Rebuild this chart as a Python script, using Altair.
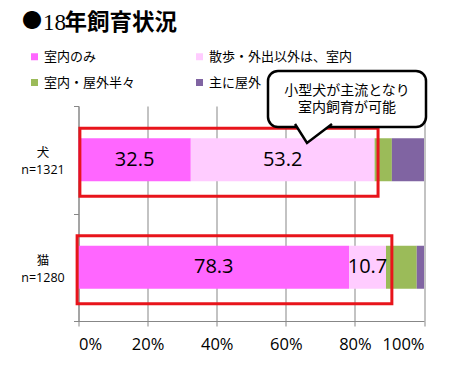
import altair as alt
import pandas as pd

# ---- data ----
categories = ["犬", "猫"]
n_values = [1321, 1280]
series = ["室内のみ", "散歩・外出以外は、室内", "室内・屋外半々", "主に屋外"]
dog_values = [32.5, 53.2, 5.0, 9.3]
cat_values = [78.3, 10.7, 8.9, 2.1]
colors = ["#FF66FF", "#FFCCFF", "#9BBB59", "#8064A2"]
labeled_series = 2  # first two segments carry value labels
x_ticks = [0, 20, 40, 60, 80, 100]

# highlight boxes (percent units)
box_start = [0.4, -0.4]
box_end = [86.7, 90.7]

callout_lines = ["小型犬が主流となり", "室内飼育が可能"]
title_mark = "●"
title_num = "18"
title_rest = "年飼育状況"

ylabels = [f"{c}|n={n}" for c, n in zip(categories, n_values)]

rows = []
for lab, vals in zip(ylabels, [dog_values, cat_values]):
    for i, (s, v) in enumerate(zip(series, vals)):
        rows.append({"label": lab, "series": s, "idx": i, "value": v})
df = pd.DataFrame(rows)
boxes = pd.DataFrame({"label": ylabels, "x0": box_start, "x1": box_end})
one = pd.DataFrame({"a": [0]})

JP = "'Noto Sans CJK JP'"
NUM = "'Open Sans', 'Noto Sans CJK JP'"

xscale = alt.Scale(domain=[0, 100], nice=False, zero=False)
yscale = alt.Scale(domain=ylabels, paddingInner=0, paddingOuter=0)

xaxis = alt.Axis(values=x_ticks, labelExpr="datum.value + '%'", title=None,
                 grid=True, gridColor="#878787", domainColor="#878787",
                 tickColor="#878787", tickSize=5, labelFont=NUM,
                 labelFontSize=16.5, labelColor="black", labelPadding=10)
yaxis = alt.Axis(title=None, labelExpr="split(datum.label, '|')",
                 labelAlign="center", labelBaseline="middle", labelPadding=31,
                 labelOffset=-7,
                 labelFont=NUM, labelFontSize=12.5, labelLineHeight=17,
                 labelColor="black", domainColor="#878787", tickColor="#878787",
                 tickSize=5, tickBand="extent", grid=False)

bars = alt.Chart(df).mark_bar(size=43).encode(
    x=alt.X("value:Q", stack="zero", scale=xscale, axis=xaxis),
    y=alt.Y("label:N", scale=yscale, axis=yaxis, sort=ylabels),
    color=alt.Color("series:N", scale=alt.Scale(domain=series, range=colors),
                    legend=alt.Legend(orient="none", legendX=-50.5, legendY=-56,
                                      direction="horizontal",
                                      columns=2, title=None, symbolType="square",
                                      symbolSize=49, symbolStrokeWidth=0,
                                      labelFont=JP, labelFontSize=13,
                                      labelColor="black", labelOffset=3,
                                      labelLimit=0, columnPadding=57,
                                      rowPadding=12, padding=0)),
    order=alt.Order("idx:Q"),
)

labels = alt.Chart(df).transform_stack(
    stack="value", as_=["x0", "x1"], groupby=["label"],
    sort=[alt.SortField("idx", order="ascending")]
).transform_calculate(mid="(datum.x0 + datum.x1) / 2").transform_filter(
    f"datum.idx < {labeled_series}"
).mark_text(font=NUM, fontSize=20, color="black", baseline="middle").encode(
    x=alt.X("mid:Q", scale=xscale),
    y=alt.Y("label:N", scale=yscale, sort=ylabels),
    text=alt.Text("value:Q", format=".1f"),
)

redboxes = alt.Chart(boxes).mark_bar(size=68, fillOpacity=0, stroke="#E8141B",
                                     strokeWidth=3, yOffset=2.5).encode(
    x=alt.X("x0:Q", scale=xscale),
    x2="x1:Q",
    y=alt.Y("label:N", scale=yscale, sort=ylabels),
)

callout_box = alt.Chart(one).mark_rect(cornerRadius=10, fill="white",
                                       stroke="black", strokeWidth=2.5).encode(
    x=alt.value(189.5), x2=alt.value(347.5), y=alt.value(-35), y2=alt.value(21))

pointer = alt.Chart(one).mark_point(
    shape="M-0.9,-0.5 L-0.3,0.45 L0.95,-0.5", size=1600, filled=True,
    fill="white", stroke="black", strokeWidth=2.5, opacity=1, strokeJoin="miter"
).encode(x=alt.value(234.5), y=alt.value(28))

callout_text = alt.Chart(one).mark_text(font=JP, fontSize=14, color="black",
                                        align="center", baseline="middle",
                                        lineHeight=17).encode(
    x=alt.value(268.5), y=alt.value(-15), text=alt.value(callout_lines))

t1 = alt.Chart(one).mark_text(font=JP, fontSize=20, color="black", align="left",
                              baseline="middle").encode(
    x=alt.value(-56.5), y=alt.value(-84), text=alt.value(title_mark))
t2 = alt.Chart(one).mark_text(font="'Liberation Serif'", fontSize=23, color="black",
                              align="left", baseline="middle").encode(
    x=alt.value(-35.5), y=alt.value(-83), text=alt.value(title_num))
t3 = alt.Chart(one).mark_text(font=JP, fontSize=22.5, fontWeight="bold",
                              color="black", align="left", baseline="middle").encode(
    x=alt.value(-14), y=alt.value(-83), text=alt.value(title_rest))

chart = alt.layer(bars, labels, redboxes, callout_box, pointer, callout_text,
                  t1, t2, t3).properties(
    width=345.5, height=215,
    autosize=alt.AutoSizeParams(type="none"),
    padding={"left": 70.5, "top": 98, "right": 16, "bottom": 40},
).configure_view(stroke=None)

chart.save("out.html", embed_options={"renderer": "svg", "actions": False})
